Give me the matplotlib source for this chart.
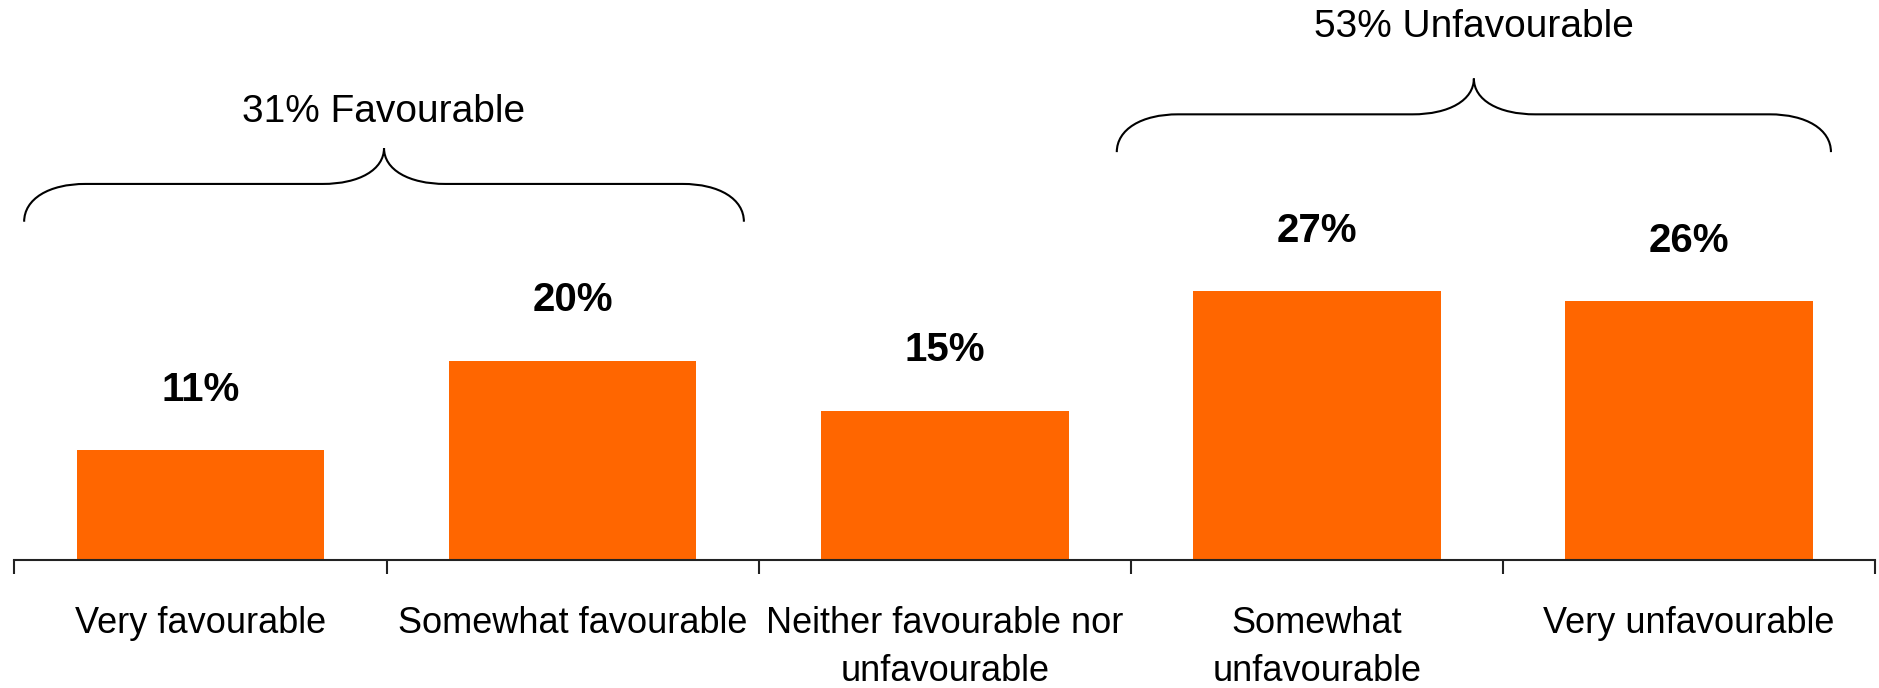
import matplotlib
matplotlib.use("Agg")
import matplotlib.pyplot as plt
from matplotlib.path import Path
from matplotlib.patches import PathPatch
import numpy as np

# --- data ---
categories = ["Very favourable", "Somewhat favourable",
              "Neither favourable nor\nunfavourable",
              "Somewhat\nunfavourable", "Very unfavourable"]
values = [11, 20, 15, 27, 26]
group_labels = ["31% Favourable", "53% Unfavourable"]
group_members = [(0, 1), (3, 4)]

# --- style ---
ORANGE = "#ff6600"
INK = "#000000"
FONT = ["Liberation Sans", "DejaVu Sans"]
BRACE_EXTENT = [(-0.474, 0.46), (-0.538, 0.381)]   # left/right overhang vs bars
BRACE_RISE = 14          # brace feet above tallest bar of group
TEXT_GAP = [3.6, 5.2]    # group label above the brace tip

plt.rcParams["font.family"] = FONT


def draw_brace(ax, x0, x1, y_end, y_flat, y_tip, d):
    xm = (x0 + x1) / 2
    verts = [
        (x0, y_end),
        (x0, y_end + 0.6 * (y_flat - y_end)), (x0 + 0.4 * d, y_flat), (x0 + d, y_flat),
        (xm - d, y_flat),
        (xm - 0.4 * d, y_flat), (xm, y_flat + 0.4 * (y_tip - y_flat)), (xm, y_tip),
        (xm, y_flat + 0.4 * (y_tip - y_flat)), (xm + 0.4 * d, y_flat), (xm + d, y_flat),
        (x1 - d, y_flat),
        (x1 - 0.4 * d, y_flat), (x1, y_end + 0.6 * (y_flat - y_end)), (x1, y_end),
    ]
    codes = ([Path.MOVETO] + [Path.CURVE4] * 3 + [Path.LINETO] + [Path.CURVE4] * 3
             + [Path.CURVE4] * 3 + [Path.LINETO] + [Path.CURVE4] * 3)
    ax.add_patch(PathPatch(Path(verts, codes), fill=False, edgecolor=INK,
                           linewidth=1.5, clip_on=False))


fig = plt.figure(figsize=(18.79, 6.88), dpi=100)
ax = fig.add_axes([0.0077, 0.1864, 0.9903, 0.8136])
x = np.arange(len(categories))
ax.bar(x, values, width=0.665, color=ORANGE, zorder=2)

for xi, v in zip(x, values):
    ax.text(xi, v + 6.1, f"{v}%", ha="center", va="center",
            fontsize=29, fontweight="bold", color=INK)

for (a, b), (l, r), lab, gap in zip(group_members, BRACE_EXTENT, group_labels, TEXT_GAP):
    top = max(values[a:b + 1])
    y_end = top + BRACE_RISE
    y_flat = y_end + 3.8
    y_tip = y_flat + 3.6
    x0, x1 = a + l, b + r
    draw_brace(ax, x0, x1, y_end, y_flat, y_tip, 0.165)
    ax.text((x0 + x1) / 2, y_tip + gap, lab, ha="center", va="center",
            fontsize=28, color=INK)

ax.set_xlim(-0.5, len(categories) - 0.5)
ax.set_ylim(0, 56.3)
ax.set_yticks([])
for side in ("top", "right", "left"):
    ax.spines[side].set_visible(False)
ax.spines["bottom"].set_color("#222222")
ax.spines["bottom"].set_linewidth(1.5)

ax.set_xticks(np.arange(-0.5, len(categories)), labels=[])
ax.tick_params(axis="x", which="major", length=10, width=1.5, color="#222222")
ax.set_xticks(x, labels=categories, minor=True)
ax.tick_params(axis="x", which="minor", length=0, pad=33, labelsize=26)
for t in ax.get_xticklabels(minor=True):
    t.set_linespacing(1.5)

fig.savefig("out.png", dpi=100)
